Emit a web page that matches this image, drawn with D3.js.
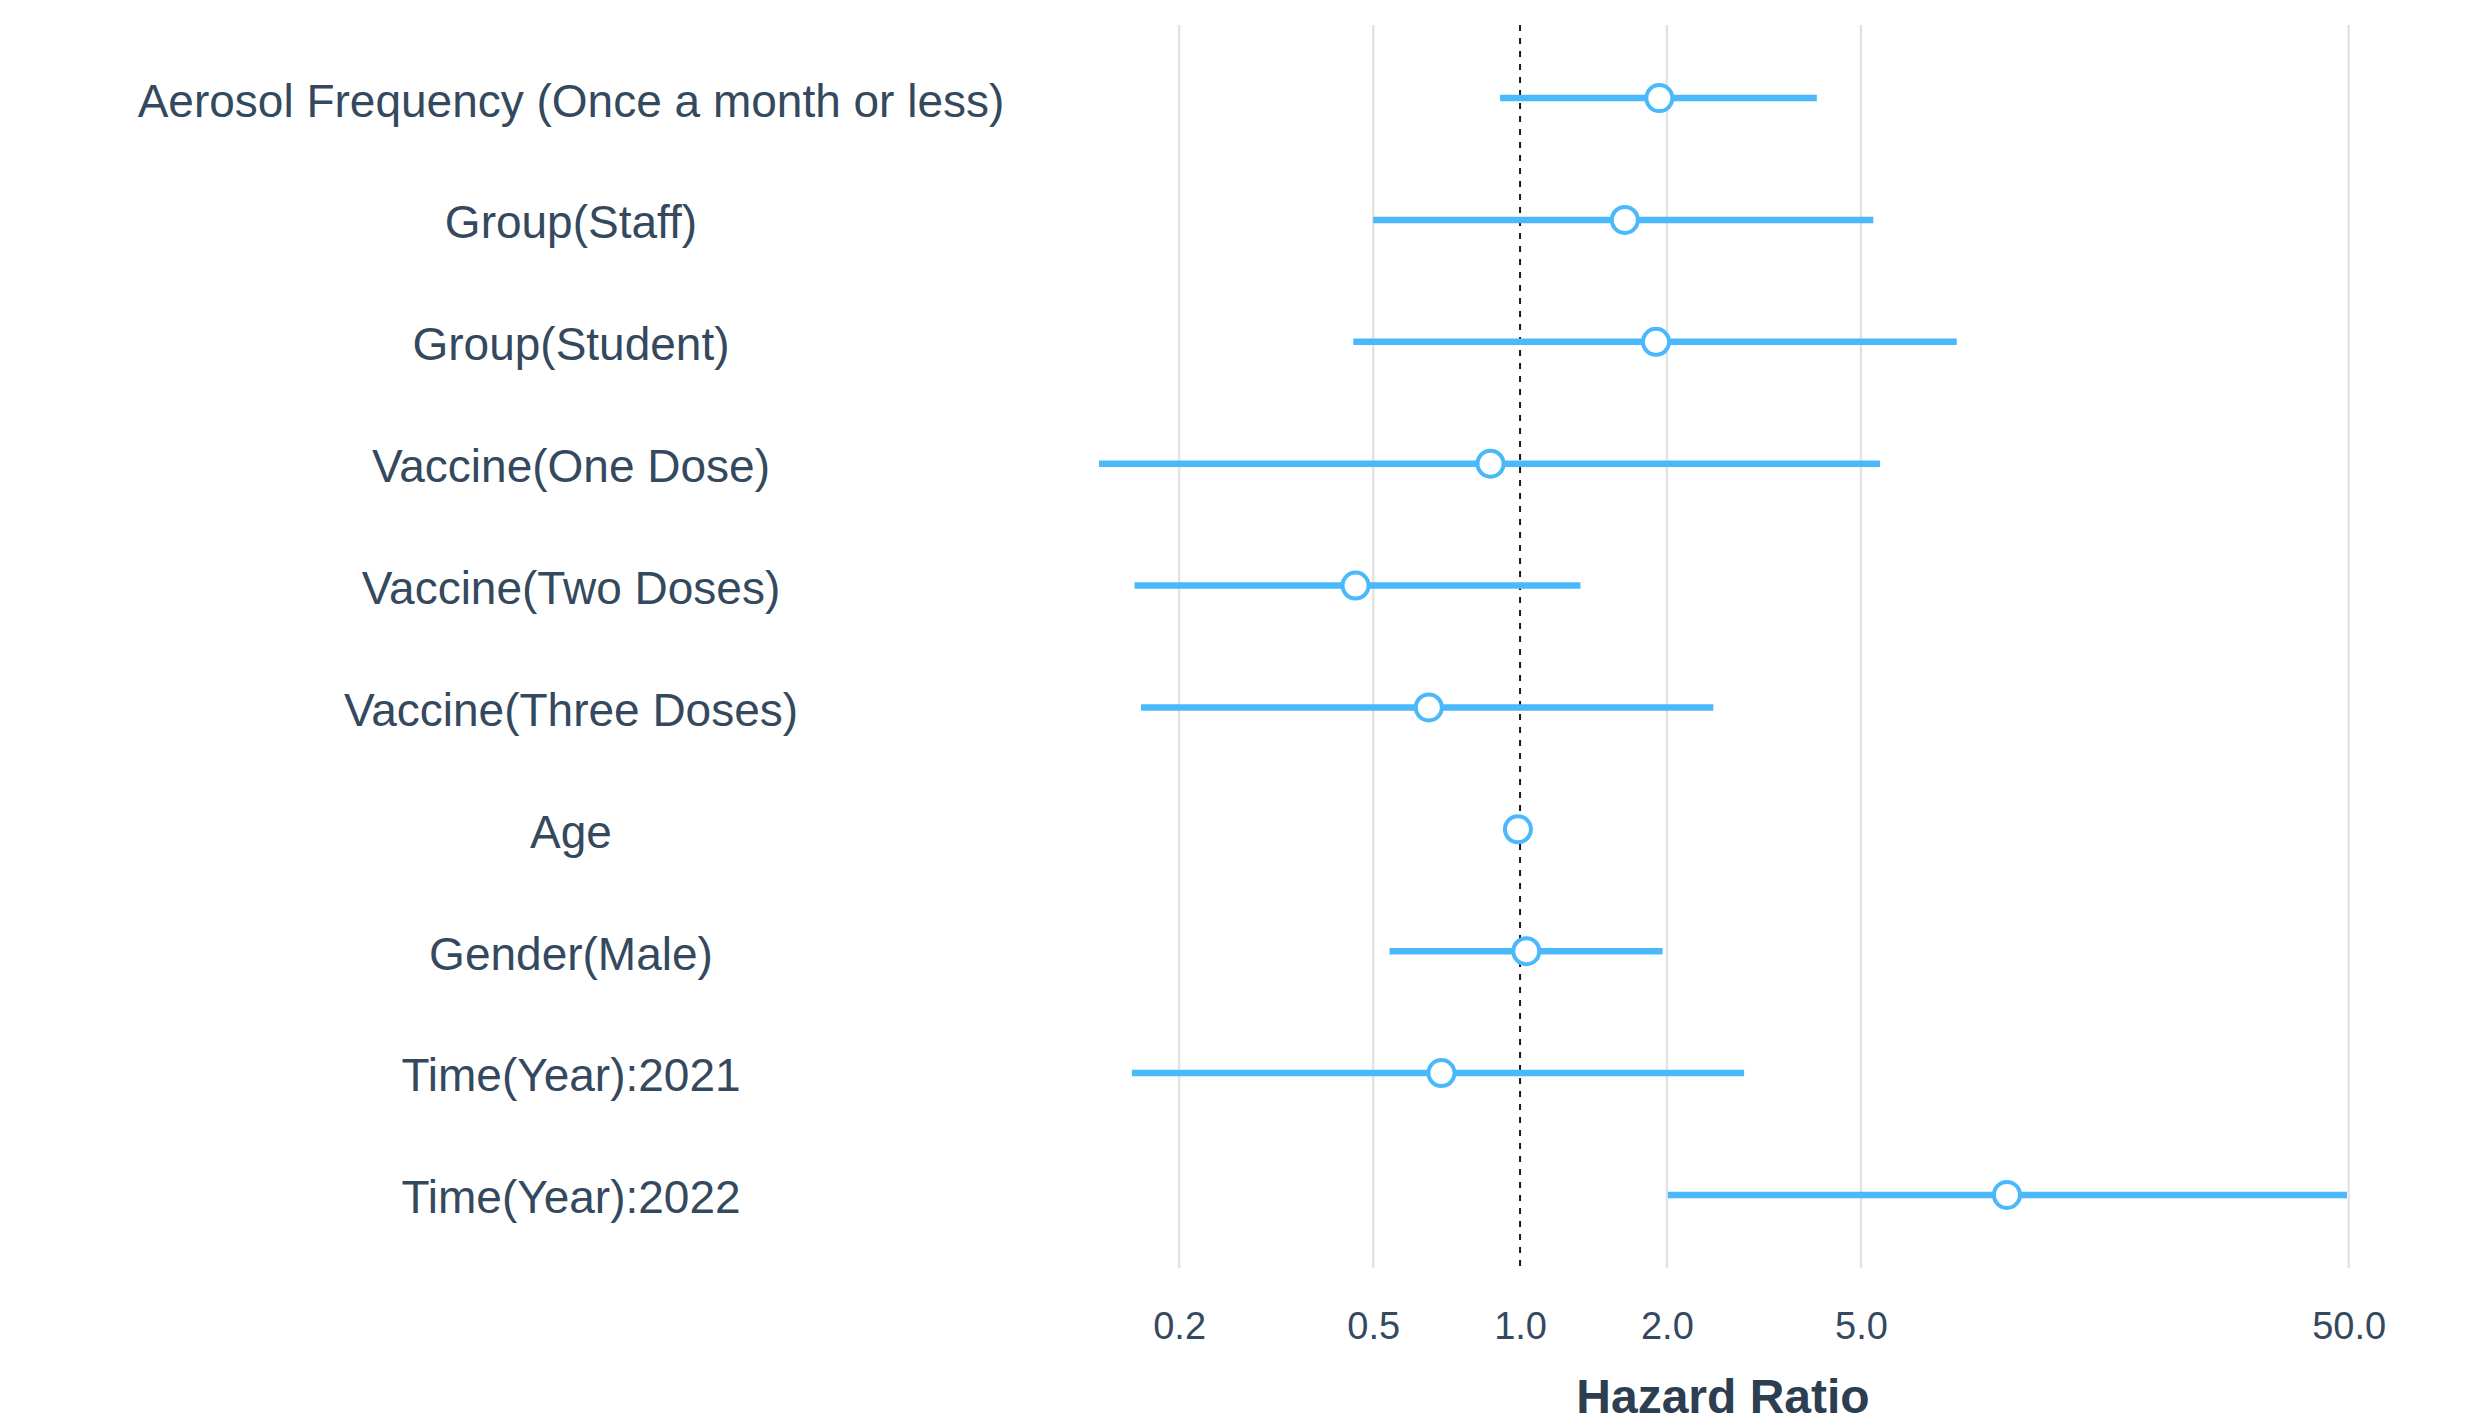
<!DOCTYPE html>
<html>
<head>
<meta charset="utf-8">
<script src="https://cdn.jsdelivr.net/npm/d3@7"></script>
<style>
  html, body { margin: 0; padding: 0; background: #ffffff; }
  svg { display: block; font-family: "Liberation Sans", Arial, sans-serif; }
</style>
</head>
<body>
<svg id="chart" width="2473" height="1423"></svg>
<script>
// Cox model terms, top to bottom
const categories = [
  "Aerosol Frequency (Once a month or less)",
  "Group(Staff)",
  "Group(Student)",
  "Vaccine(One Dose)",
  "Vaccine(Two Doses)",
  "Vaccine(Three Doses)",
  "Age",
  "Gender(Male)",
  "Time(Year):2021",
  "Time(Year):2022"
];
// Hazard ratio point estimates
const hazardRatio = [1.93, 1.64, 1.90, 0.87, 0.46, 0.65, 0.99, 1.03, 0.69, 9.96];
// 95% confidence bounds
const ciLower = [0.91, 0.50, 0.455, 0.137, 0.162, 0.167, 0.98, 0.54, 0.160, 2.01];
const ciUpper = [4.06, 5.30, 7.86, 5.47, 1.33, 2.49, 1.01, 1.96, 2.88, 49.6];
// x-axis tick values
const tickValues = [0.2, 0.5, 1.0, 2.0, 5.0, 50.0];

const rows = categories.map((c, i) => ({
  term: c, hr: hazardRatio[i], lo: ciLower[i], hi: ciUpper[i]
}));

const svg = d3.select("#chart");
const panel = { left: 1099, right: 2347, top: 25, bottom: 1268 };
const blue = "#4ab9fb";
const textColor = "#34495e";

const x = d3.scaleLog()
  .domain([d3.min(ciLower), d3.max(ciUpper)])
  .range([panel.left, panel.right]);

const y = d3.scalePoint()
  .domain(categories)
  .range([panel.top, panel.bottom])
  .padding(0.6);

// vertical grid lines at the tick values
svg.append("g")
  .selectAll("line")
  .data(tickValues.filter(t => t !== 1))
  .join("line")
  .attr("x1", d => x(d)).attr("x2", d => x(d))
  .attr("y1", panel.top).attr("y2", panel.bottom)
  .attr("stroke", "#e3e3e3")
  .attr("stroke-width", 2.5);

// reference line at HR = 1
svg.append("line")
  .attr("x1", x(1)).attr("x2", x(1))
  .attr("y1", panel.top).attr("y2", panel.bottom)
  .attr("stroke", "#1a1a1a")
  .attr("stroke-width", 2)
  .attr("stroke-dasharray", "6,7");

// confidence interval bars
svg.append("g")
  .selectAll("line")
  .data(rows)
  .join("line")
  .attr("x1", d => x(d.lo)).attr("x2", d => x(d.hi))
  .attr("y1", d => y(d.term)).attr("y2", d => y(d.term))
  .attr("stroke", blue)
  .attr("stroke-width", 6.5);

// point estimates
svg.append("g")
  .selectAll("circle")
  .data(rows)
  .join("circle")
  .attr("cx", d => x(d.hr))
  .attr("cy", d => y(d.term))
  .attr("r", 13)
  .attr("fill", "#ffffff")
  .attr("stroke", blue)
  .attr("stroke-width", 4);

// term labels, centred in the left margin
svg.append("g")
  .selectAll("text")
  .data(categories)
  .join("text")
  .attr("x", 571)
  .attr("y", d => y(d))
  .attr("dy", "0.4em")
  .attr("text-anchor", "middle")
  .attr("font-size", 46)
  .attr("fill", textColor)
  .text(d => d);

// x axis labels
const xAxis = d3.axisBottom(x)
  .tickValues(tickValues)
  .tickFormat(d3.format(".1f"))
  .tickSize(0)
  .tickPadding(44);

const gx = svg.append("g")
  .attr("transform", `translate(0,${panel.bottom})`)
  .call(xAxis);
gx.select(".domain").remove();
gx.selectAll("text")
  .attr("font-size", 38)
  .attr("font-family", "Liberation Sans, Arial, sans-serif")
  .attr("fill", textColor);

// axis title
svg.append("text")
  .attr("x", (panel.left + panel.right) / 2)
  .attr("y", 1413)
  .attr("text-anchor", "middle")
  .attr("font-size", 48)
  .attr("font-weight", "bold")
  .attr("fill", "#2c3e50")
  .text("Hazard Ratio");
</script>
</body>
</html>
